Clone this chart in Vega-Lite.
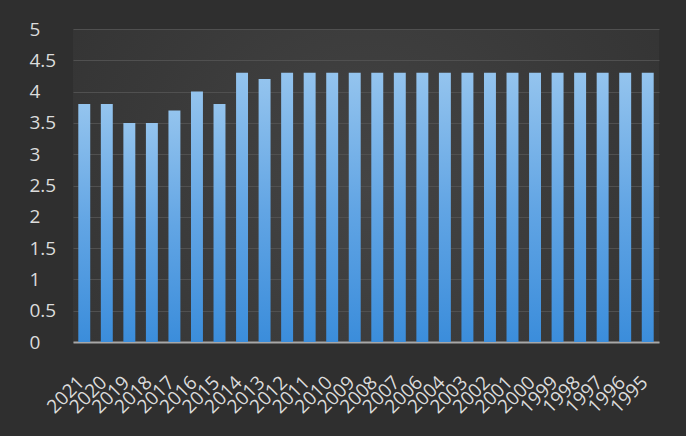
{
  "$schema": "https://vega.github.io/schema/vega-lite/v6.json",
  "width": 586,
  "height": 313,
  "autosize": {"type": "none"},
  "padding": {"left": 73, "top": 29, "right": 27, "bottom": 94},
  "background": "#2f2f2f",
  "config": {
    "font": "Open Sans",
    "view": {
      "stroke": null,
      "fill": {
        "gradient": "radial",
        "x1": 0.5, "y1": 0.5, "r1": 0,
        "x2": 0.5, "y2": 0.5, "r2": 0.72,
        "stops": [
          {"offset": 0, "color": "#444444"},
          {"offset": 0.55, "color": "#393939"},
          {"offset": 1, "color": "#313131"}
        ]
      }
    }
  },
  "data": {
    "values": [
      {"year": "2021", "rating": 3.8},
      {"year": "2020", "rating": 3.8},
      {"year": "2019", "rating": 3.5},
      {"year": "2018", "rating": 3.5},
      {"year": "2017", "rating": 3.7},
      {"year": "2016", "rating": 4.0},
      {"year": "2015", "rating": 3.8},
      {"year": "2014", "rating": 4.3},
      {"year": "2013", "rating": 4.2},
      {"year": "2012", "rating": 4.3},
      {"year": "2011", "rating": 4.3},
      {"year": "2010", "rating": 4.3},
      {"year": "2009", "rating": 4.3},
      {"year": "2008", "rating": 4.3},
      {"year": "2007", "rating": 4.3},
      {"year": "2006", "rating": 4.3},
      {"year": "2004", "rating": 4.3},
      {"year": "2003", "rating": 4.3},
      {"year": "2002", "rating": 4.3},
      {"year": "2001", "rating": 4.3},
      {"year": "2000", "rating": 4.3},
      {"year": "1999", "rating": 4.3},
      {"year": "1998", "rating": 4.3},
      {"year": "1997", "rating": 4.3},
      {"year": "1996", "rating": 4.3},
      {"year": "1995", "rating": 4.3}
    ]
  },
  "mark": {
    "type": "bar",
    "color": {
      "gradient": "linear",
      "x1": 0, "y1": 0, "x2": 0, "y2": 1,
      "stops": [
        {"offset": 0, "color": "#94c4ee"},
        {"offset": 0.5, "color": "#62a5e4"},
        {"offset": 1, "color": "#3b8ddb"}
      ]
    }
  },
  "encoding": {
    "x": {
      "field": "year",
      "type": "nominal",
      "sort": null,
      "scale": {"paddingInner": 0.47, "paddingOuter": 0.235},
      "axis": {
        "title": null,
        "ticks": false,
        "domain": true,
        "domainColor": "#a8a8a8",
        "domainWidth": 2,
        "labelAngle": -45,
        "labelAlign": "right",
        "labelBaseline": "middle",
        "labelPadding": 37,
        "labelOffset": -3,
        "labelFontSize": 19,
        "labelColor": "#dcdcdc",
        "labelOverlap": false,
        "grid": false
      }
    },
    "y": {
      "field": "rating",
      "type": "quantitative",
      "scale": {"domain": [0, 5], "nice": false},
      "axis": {
        "title": null,
        "values": [0, 0.5, 1, 1.5, 2, 2.5, 3, 3.5, 4, 4.5, 5],
        "format": ".1~f",
        "domain": false,
        "ticks": false,
        "tickSize": 0,
        "labelAlign": "left",
        "labelPadding": 44,
        "labelFontSize": 19,
        "labelColor": "#dcdcdc",
        "gridColor": "#505050",
        "gridWidth": 1
      }
    }
  }
}
